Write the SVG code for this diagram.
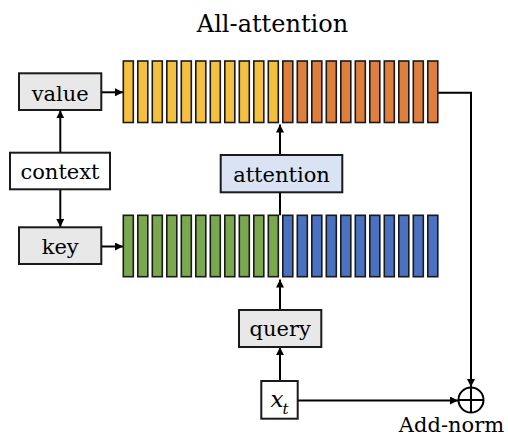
<svg xmlns="http://www.w3.org/2000/svg" width="508" height="437" viewBox="0 0 508 437">
<defs>
<marker id="ah" viewBox="0 0 10 10" refX="10" refY="5" markerWidth="4" markerHeight="4" orient="auto" markerUnits="strokeWidth">
<path d="M0,0 L10,5 L0,10 Z" fill="#000"/>
</marker>
<style>
.box{stroke:#1a1a1a;stroke-width:2}
.grey{fill:#e8e8e8}
.white{fill:#fff}
.blue{fill:#dae3f3}
.lbl{font-family:"DejaVu Serif","Liberation Serif",serif;font-size:21px;fill:#000;text-anchor:middle}
.bar{stroke:#1a1a1a;stroke-width:1.6}
.y{fill:#f4c040}
.o{fill:#df7f3e}
.g{fill:#79a84e}
.b{fill:#4a72c1}
.c{fill:none;stroke:#000;stroke-width:2}
</style>
</defs>
<rect width="508" height="437" fill="#fff"/>
<text x="272.5" y="32" class="lbl" style="font-size:24px">All-attention</text>

<g id="connectors" class="c">
<line x1="101" y1="92.3" x2="123" y2="92.3" marker-end="url(#ah)"/>
<line x1="101" y1="246.5" x2="123" y2="246.5" marker-end="url(#ah)"/>
<line x1="60.3" y1="152.7" x2="60.3" y2="110.3" marker-end="url(#ah)"/>
<line x1="60.3" y1="189.3" x2="60.3" y2="227" marker-end="url(#ah)"/>
<line x1="280" y1="155" x2="280" y2="124.5" marker-end="url(#ah)"/>
<line x1="280" y1="192.3" x2="280" y2="215.3"/>
<line x1="280" y1="310" x2="280" y2="279.5" marker-end="url(#ah)"/>
<line x1="280" y1="381" x2="280" y2="347.3" marker-end="url(#ah)"/>
<line x1="297.7" y1="400.5" x2="458" y2="400.5" marker-end="url(#ah)"/>
<polyline points="437.7,92.7 471,92.7 471,387" marker-end="url(#ah)"/>
</g>

<g id="value-bars">
<rect class="bar y" x="123.3" y="61" width="10" height="61.5"/>
<rect class="bar y" x="137.8" y="61" width="10" height="61.5"/>
<rect class="bar y" x="152.3" y="61" width="10" height="61.5"/>
<rect class="bar y" x="166.8" y="61" width="10" height="61.5"/>
<rect class="bar y" x="181.3" y="61" width="10" height="61.5"/>
<rect class="bar y" x="195.8" y="61" width="10" height="61.5"/>
<rect class="bar y" x="210.3" y="61" width="10" height="61.5"/>
<rect class="bar y" x="224.8" y="61" width="10" height="61.5"/>
<rect class="bar y" x="239.3" y="61" width="10" height="61.5"/>
<rect class="bar y" x="253.8" y="61" width="10" height="61.5"/>
<rect class="bar y" x="268.3" y="61" width="10" height="61.5"/>
<rect class="bar o" x="282.8" y="61" width="10" height="61.5"/>
<rect class="bar o" x="297.3" y="61" width="10" height="61.5"/>
<rect class="bar o" x="311.8" y="61" width="10" height="61.5"/>
<rect class="bar o" x="326.3" y="61" width="10" height="61.5"/>
<rect class="bar o" x="340.8" y="61" width="10" height="61.5"/>
<rect class="bar o" x="355.3" y="61" width="10" height="61.5"/>
<rect class="bar o" x="369.8" y="61" width="10" height="61.5"/>
<rect class="bar o" x="384.3" y="61" width="10" height="61.5"/>
<rect class="bar o" x="398.8" y="61" width="10" height="61.5"/>
<rect class="bar o" x="413.3" y="61" width="10" height="61.5"/>
<rect class="bar o" x="427.8" y="61" width="10" height="61.5"/>
</g>

<g id="key-bars">
<rect class="bar g" x="123.3" y="215.3" width="10" height="61.4"/>
<rect class="bar g" x="137.8" y="215.3" width="10" height="61.4"/>
<rect class="bar g" x="152.3" y="215.3" width="10" height="61.4"/>
<rect class="bar g" x="166.8" y="215.3" width="10" height="61.4"/>
<rect class="bar g" x="181.3" y="215.3" width="10" height="61.4"/>
<rect class="bar g" x="195.8" y="215.3" width="10" height="61.4"/>
<rect class="bar g" x="210.3" y="215.3" width="10" height="61.4"/>
<rect class="bar g" x="224.8" y="215.3" width="10" height="61.4"/>
<rect class="bar g" x="239.3" y="215.3" width="10" height="61.4"/>
<rect class="bar g" x="253.8" y="215.3" width="10" height="61.4"/>
<rect class="bar g" x="268.3" y="215.3" width="10" height="61.4"/>
<rect class="bar b" x="282.8" y="215.3" width="10" height="61.4"/>
<rect class="bar b" x="297.3" y="215.3" width="10" height="61.4"/>
<rect class="bar b" x="311.8" y="215.3" width="10" height="61.4"/>
<rect class="bar b" x="326.3" y="215.3" width="10" height="61.4"/>
<rect class="bar b" x="340.8" y="215.3" width="10" height="61.4"/>
<rect class="bar b" x="355.3" y="215.3" width="10" height="61.4"/>
<rect class="bar b" x="369.8" y="215.3" width="10" height="61.4"/>
<rect class="bar b" x="384.3" y="215.3" width="10" height="61.4"/>
<rect class="bar b" x="398.8" y="215.3" width="10" height="61.4"/>
<rect class="bar b" x="413.3" y="215.3" width="10" height="61.4"/>
<rect class="bar b" x="427.8" y="215.3" width="10" height="61.4"/>
</g>

<g id="value">
<rect class="box grey" x="19" y="73.3" width="82.3" height="36.7"/>
<text class="lbl" x="60.2" y="100.5">value</text>
</g>
<g id="context">
<rect class="box white" x="10" y="152.7" width="100" height="36.6"/>
<text class="lbl" x="60" y="178.5">context</text>
</g>
<g id="key">
<rect class="box grey" x="19" y="227.3" width="82.3" height="36.7"/>
<text class="lbl" x="60.2" y="253.5">key</text>
</g>
<g id="attention">
<rect class="box blue" x="220.7" y="155" width="121.6" height="37.3"/>
<text class="lbl" x="281.5" y="181.5">attention</text>
</g>
<g id="query">
<rect class="box grey" x="239" y="310" width="82.3" height="37"/>
<text class="lbl" x="280.2" y="336">query</text>
</g>
<g id="xt">
<rect class="box white" x="261.3" y="381" width="36.4" height="37.7"/>
<text class="lbl" x="270.5" y="406.7" style="font-style:italic;font-size:23px;text-anchor:start">x</text>
<text class="lbl" x="282.5" y="413.5" style="font-style:italic;font-size:15px;text-anchor:start">t</text>
</g>
<g id="add-norm">
<circle cx="471" cy="400" r="12.5" fill="none" stroke="#000" stroke-width="2"/>
<line x1="458.5" y1="400" x2="483.5" y2="400" stroke="#000" stroke-width="2"/>
<line x1="471" y1="387.5" x2="471" y2="412.5" stroke="#000" stroke-width="2"/>
<text class="lbl" x="451.5" y="431.5">Add-norm</text>
</g>
</svg>
